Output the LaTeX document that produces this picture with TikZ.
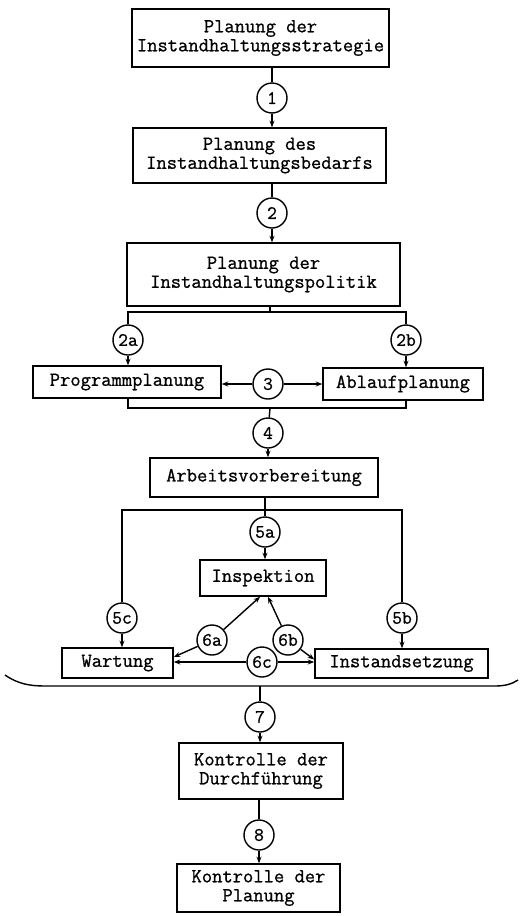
\documentclass[tikz,border=0pt]{standalone}
\usepackage{fontspec}
\setmonofont{Latin Modern Mono}[FakeBold=0.9]
\usetikzlibrary{arrows.meta}
\begin{document}
\begin{tikzpicture}[x=1pt,y=-1pt,
  box/.style={draw, line width=1.6pt, inner sep=0pt, align=center,
    font=\ttfamily\fontsize{20}{19}\selectfont},
  num/.style={draw, circle, line width=1.4pt, minimum size=30pt, inner sep=0pt,
    font=\ttfamily\fontsize{19}{19}\selectfont},
  link/.style={line width=1.4pt},
  arr/.style={link, -{Stealth[length=6.5pt,width=5pt]}}
]
\useasboundingbox (0,0) rectangle (520,916);

% planning chain
\node[box, minimum width=257pt, minimum height=58pt] (strat) at (260.5,38) {Planung der\\Instandhaltungsstrategie};
\node[num] (n1) at (272,98) {1};
\node[box, minimum width=253pt, minimum height=55pt] (bedarf) at (259.5,155.5) {Planung des\\Instandhaltungsbedarfs};
\node[num] (n2) at (272,213) {2};
\node[box, minimum width=273pt, minimum height=63pt] (politik) at (263.5,274.5) {Planung der\\Instandhaltungspolitik};

\node[num] (n2a) at (128,340) {2a};
\node[num] (n2b) at (406,340) {2b};
\node[box, minimum width=188pt, minimum height=32pt] (prog) at (127,382) {Programmplanung};
\node[box, minimum width=160pt, minimum height=32pt] (ablauf) at (403,384) {Ablaufplanung};
\node[num] (n3) at (268,384) {3};

\node[num] (n4) at (268,433) {4};
\node[box, minimum width=228pt, minimum height=39pt] (arbeit) at (264,477.5) {Arbeitsvorbereitung};

% execution
\node[num] (n5a) at (265,532) {5a};
\node[box, minimum width=126pt, minimum height=36pt] (insp) at (263,578) {Inspektion};
\node[num] (n5c) at (122,618) {5c};
\node[num] (n5b) at (402,618) {5b};
\node[box, minimum width=111pt, minimum height=30pt] (wart) at (117.5,663) {Wartung};
\node[box, minimum width=173pt, minimum height=29pt] (inst) at (401.5,663.5) {Instandsetzung};
\node[num] (n6a) at (212,640) {6a};
\node[num] (n6b) at (288,640) {6b};
\node[num] (n6c) at (262,662) {6c};

% control
\node[num] (n7) at (260,717) {7};
\node[box, minimum width=164pt, minimum height=56pt] (kdurch) at (261,771) {Kontrolle der\\Durchführung};
\node[num] (n8) at (259,835) {8};
\node[box, minimum width=163pt, minimum height=48pt] (kplan) at (258.5,888) {Kontrolle der\\Planung};

% junction points
\coordinate (j3) at (270,312);
\coordinate (j4) at (270,408);
\coordinate (j5) at (265,510);
\coordinate (j7) at (260,686);

% connectors
\draw[link] (n1 |- strat.south) -- (n1);
\draw[arr] (n1) -- (n1 |- bedarf.north);
\draw[link] (n2 |- bedarf.south) -- (n2);
\draw[arr] (n2) -- (n2 |- politik.north);

\draw[link] (j3 |- politik.south) -- (j3);
\draw[link] (n2a) -- (n2a |- j3) -- (n2b |- j3) -- (n2b);
\draw[arr] (n2a) -- (n2a |- prog.north);
\draw[arr] (n2b) -- (n2b |- ablauf.north);
\draw[arr] (n3) -- (prog.east |- n3);
\draw[arr] (n3) -- (ablauf.west |- n3);

\draw[link] (n2a |- prog.south) -- (n2a |- j4) -- (n2b |- j4) -- (n2b |- ablauf.south);
\draw[link] (j4) -- (n4);
\draw[arr] (n4) -- (n4 |- arbeit.north);

\draw[link] (j5 |- arbeit.south) -- (j5) -- (n5a);
\draw[link] (n5c) -- (n5c |- j5) -- (n5b |- j5) -- (n5b);
\draw[arr] (n5a) -- (n5a |- insp.north);
\draw[arr] (n5c) -- (n5c |- wart.north);
\draw[arr] (n5b) -- (n5b |- inst.north);

\draw[arr] (n6a) -- ([xshift=-3pt]insp.south);
\draw[arr] (n6a) -- ([yshift=6pt]wart.east);
\draw[arr] (n6b) -- ([xshift=5pt]insp.south);
\draw[arr] (n6b) -- ([yshift=4pt]inst.west);
\draw[arr] (n6c) -- (wart.east |- n6c);
\draw[arr] (n6c) -- (inst.west |- n6c);

% bracket gathering the execution stage
\draw[link] (5,675) .. controls (18,684) and (30,686) .. (45,686) -- (495,686)
  .. controls (505,686) and (512,684) .. (518,680);
\draw[link] (j7) -- (n7);
\draw[arr] (n7) -- (n7 |- kdurch.north);
\draw[link] (n8 |- kdurch.south) -- (n8);
\draw[arr] (n8) -- (n8 |- kplan.north);
\end{tikzpicture}
\end{document}
